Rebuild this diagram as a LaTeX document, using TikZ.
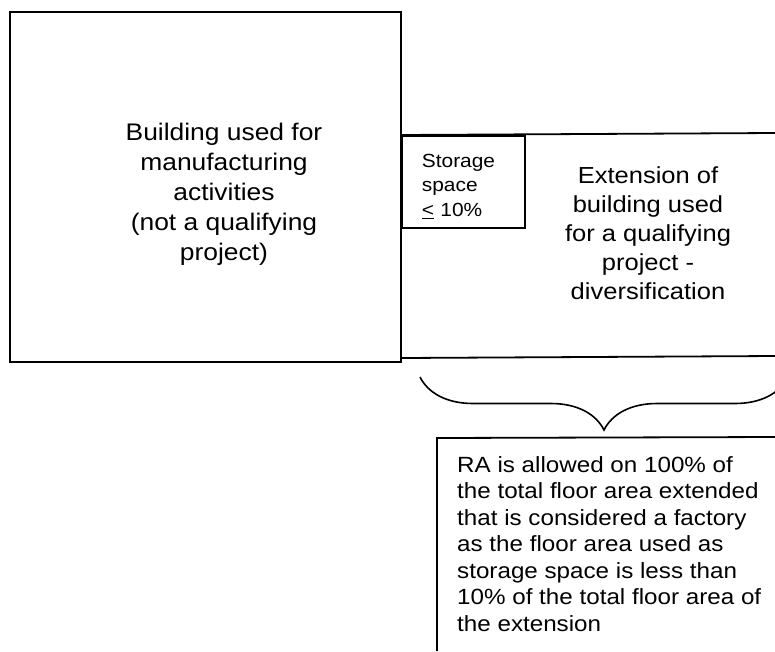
\documentclass[tikz,border=0pt]{standalone}
\usepackage{fontspec}
\newfontfamily\planfont[FakeStretch=1.1]{Liberation Sans}
\usetikzlibrary{decorations.pathreplacing,positioning}

\tikzset{
  wall/.style={line width=1.8pt},
  roomtext/.style={font=\planfont\fontsize{24}{30}\selectfont, align=center, inner sep=0pt, anchor=base},
  exttext/.style={font=\planfont\fontsize{23.2}{29}\selectfont, align=center, inner sep=0pt, anchor=base},
  storebox/.style={wall, draw, anchor=north west, minimum width=123pt, minimum height=92pt, text width=83pt, text height=22pt, align=left, inner sep=0pt, font=\planfont\fontsize{19}{24.5}\selectfont},
  ruletext/.style={font=\planfont\fontsize{22}{26.5}\selectfont, align=left, inner sep=0pt, anchor=base west},
}

\begin{document}
\begin{tikzpicture}[x=1pt,y=-1pt]
\useasboundingbox (0,0) rectangle (775,651);
% building
\draw[wall] (10,12) rectangle (401,362);
\node[roomtext] (building) at (224,260) {Building used for\\manufacturing\\activities\\(not a qualifying\\project)};
% extension (runs off to the right)
\coordinate (ext-nw) at (401,135);
\coordinate (ext-ne) at (775,133);
\coordinate (ext-sw) at (401,358);
\coordinate (ext-se) at (775,356);
\draw[wall] (ext-nw) -- (ext-ne);
\draw[wall] (ext-sw) -- (ext-se);
\node[storebox] (storage) at (ext-nw) {Storage\\space\\\underline{<} 10\%};
\node[exttext] (extension) at (648,299) {Extension of\\building used\\for a qualifying\\project -\\diversification};
% brace and note
\coordinate (brace-l) at (420,377);
\coordinate (brace-r) at (788,377);
\draw[line width=1.6pt, decorate, decoration={brace, mirror, amplitude=53pt}] (brace-l) -- (brace-r);
\coordinate (rule-nw) at (437,438);
\draw[wall] (437,651) -- (rule-nw) -- (775,437);
\node[ruletext] (rule) at (457,631) {RA is allowed on 100\% of\\the total floor area extended\\that is considered a factory\\as the floor area used as\\storage space is less than\\10\% of the total floor area of\\the extension};
\end{tikzpicture}
\end{document}
